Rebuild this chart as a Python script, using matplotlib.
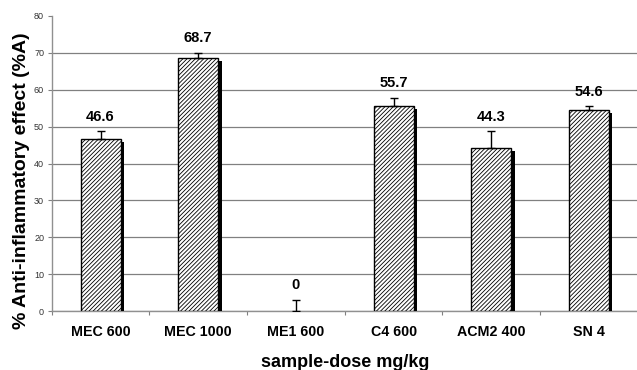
import matplotlib
matplotlib.use("Agg")
import matplotlib.pyplot as plt
import matplotlib.patheffects as pe
import numpy as np

plt.rcParams['font.family'] = ['Liberation Sans', 'DejaVu Sans']
plt.rcParams['hatch.linewidth'] = 0.6

categories = ["MEC 600", "MEC 1000", "ME1 600", "C4 600", "ACM2 400", "SN 4"]
values = [46.6, 68.7, 0.0, 55.7, 44.3, 54.6]
errors = [2.1, 1.2, 3.1, 2.1, 4.4, 0.9]
value_labels = ["46.6", "68.7", "0", "55.7", "44.3", "54.6"]
yticks = [0, 10, 20, 30, 40, 50, 60, 70, 80]

fig = plt.figure(figsize=(6.37, 3.70), dpi=100)
ax = fig.add_axes([0.0812, 0.159, 0.920, 0.798])

x = np.arange(len(categories))
bars = ax.bar(x, values, width=0.41, color='white', edgecolor='black',
              linewidth=1.0, hatch='////////', zorder=3)
for b, v in zip(bars, values):
    if v == 0:
        b.set_visible(False)
        continue
    b.set_path_effects([pe.SimplePatchShadow(offset=(2.4, -2.2), shadow_rgbFace='black', alpha=1.0),
                        pe.Normal()])

ax.errorbar(x, values, yerr=[np.zeros(len(values)), errors], fmt='none',
            ecolor='black', elinewidth=1.0, capsize=3, capthick=1.0, zorder=4)

for xi, v, e, lab in zip(x, values, errors, value_labels):
    ax.text(xi, v + e + 4.0, lab, ha='center', va='center', fontsize=10.5,
            fontweight='bold', color='black', zorder=5)

ax.set_xlim(-0.5, len(categories) - 0.5)
ax.set_ylim(0, 80)
ax.set_yticks(yticks)
ax.set_yticklabels([str(t) for t in yticks], fontsize=6.5, color='#333333')
ax.tick_params(axis='y', length=3, width=0.8, color='#808080', pad=2.5)

ax.set_xticks(x)
ax.set_xticklabels(categories, fontsize=10.3, fontweight='bold')
ax.tick_params(axis='x', which='major', length=0, pad=10)
ax.set_xticks(np.arange(len(categories) + 1) - 0.5, minor=True)
ax.tick_params(axis='x', which='minor', length=3, width=0.8, color='#808080')

ax.yaxis.grid(True, color='#808080', linewidth=0.9, zorder=0)
ax.set_axisbelow(True)
ax.get_ygridlines()[-1].set_visible(False)

for s in ['top', 'right']:
    ax.spines[s].set_visible(False)
for s in ['left', 'bottom']:
    ax.spines[s].set_color('#909090')
    ax.spines[s].set_linewidth(1.0)

ax.set_xlabel("sample-dose mg/kg", fontsize=13, fontweight='bold', labelpad=11)
fig.text(22 / 637, 1 - 181 / 370, "% Anti-inflammatory effect (%A)", fontsize=14,
         fontweight='bold', rotation=90, ha='center', va='center')

fig.savefig("out.png", dpi=100)
